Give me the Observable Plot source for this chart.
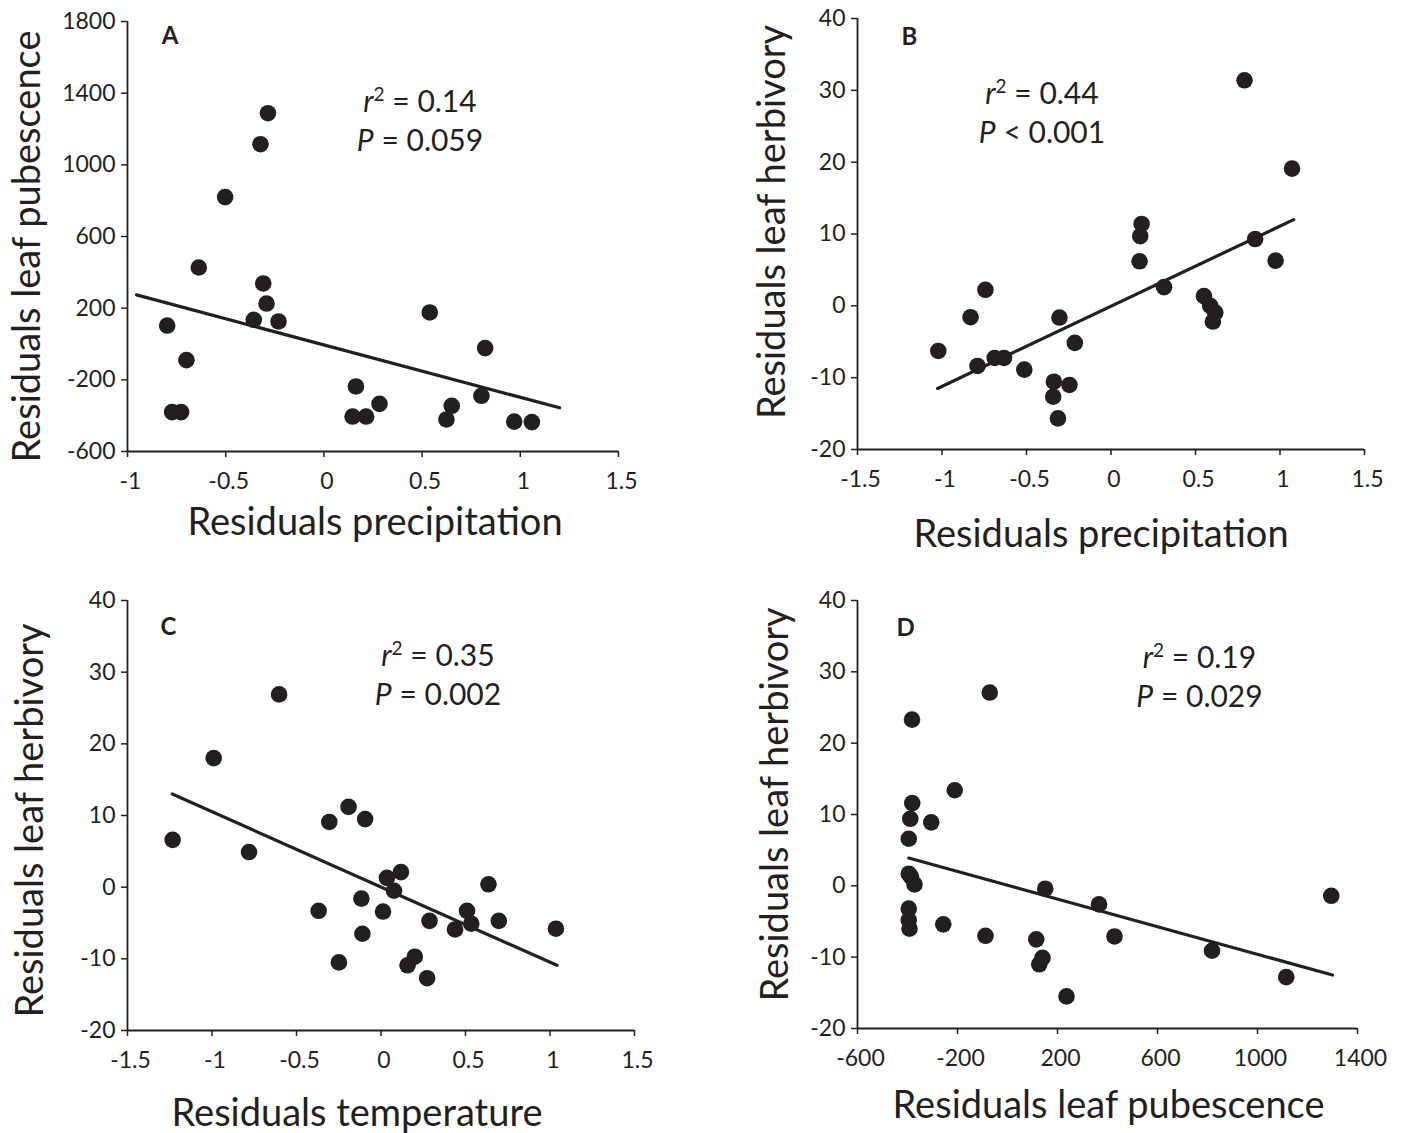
<!DOCTYPE html>
<html>
<head>
<meta charset="utf-8">
<script src="https://cdn.jsdelivr.net/npm/d3@7"></script>
<script src="https://cdn.jsdelivr.net/npm/@observablehq/plot@0.6"></script>
<style>
  html, body { margin: 0; padding: 0; background: #fff; }
  #root { position: relative; width: 1411px; height: 1133px; overflow: hidden; background: #fff; }
  #root svg { position: absolute; overflow: visible; }
</style>
</head>
<body>
<div id="root"></div>
<script>
// ---------- Panel A: residuals precipitation vs residuals leaf pubescence ----------
const aPrecipitation = [-0.285, -0.323, -0.503, -0.637, -0.309, -0.292, -0.357, -0.231, -0.798, -0.700, -0.773, -0.727, 0.539, 0.821, 0.163, 0.283, 0.146, 0.215, 0.651, 0.624, 0.802, 0.969, 1.059];
const aPubescence   = [1288, 1115, 820, 427, 338, 226, 135, 126, 103, -90, -380, -380, 176, -23, -237, -334, -405, -405, -345, -421, -289, -433, -436];
const aFitX = [-0.954, 1.200];
const aFitY = [274, -356];
const aXTicks = [-1, -0.5, 0, 0.5, 1, 1.5];
const aYTicks = [-600, -200, 200, 600, 1000, 1400, 1800];
const aStats = ["r² = 0.14", "P = 0.059"];

// ---------- Panel B: residuals precipitation vs residuals leaf herbivory ----------
const bPrecipitation = [0.790, 1.071, 0.181, 0.173, 0.169, 0.853, 0.974, 0.314, 0.550, 0.587, 0.617, 0.603, -0.743, -0.831, -0.305, -1.022, -0.790, -0.688, -0.633, -0.513, -0.214, -0.338, -0.342, -0.246, -0.314];
const bHerbivory     = [31.4, 19.1, 11.4, 9.7, 6.2, 9.3, 6.3, 2.6, 1.35, 0, -0.93, -2.19, 2.23, -1.58, -1.63, -6.28, -8.37, -7.26, -7.26, -8.88, -5.16, -10.56, -12.65, -11.02, -15.67];
const bFitX = [-1.026, 1.081];
const bFitY = [-11.5, 12.0];
const bXTicks = [-1.5, -1, -0.5, 0, 0.5, 1, 1.5];
const bYTicks = [-20, -10, 0, 10, 20, 30, 40];
const bStats = ["r² = 0.44", "P < 0.001"];

// ---------- Panel C: residuals temperature vs residuals leaf herbivory ----------
const cTemperature = [-0.603, -0.990, -1.233, -0.781, -0.192, -0.306, -0.094, 0.118, 0.035, 0.077, 0.636, -0.369, -0.116, 0.012, 0.287, 0.509, 0.534, 0.438, 0.697, 1.035, -0.110, -0.249, 0.200, 0.157, 0.273];
const cHerbivory   = [26.9, 18.0, 6.6, 4.9, 11.2, 9.1, 9.5, 2.1, 1.3, -0.5, 0.4, -3.3, -1.6, -3.4, -4.7, -3.3, -5.1, -5.9, -4.7, -5.8, -6.5, -10.5, -9.7, -10.9, -12.7];
const cFitX = [-1.235, 1.041];
const cFitY = [13.0, -10.9];
const cXTicks = [-1.5, -1, -0.5, 0, 0.5, 1, 1.5];
const cYTicks = [-20, -10, 0, 10, 20, 30, 40];
const cStats = ["r² = 0.35", "P = 0.002"];

// ---------- Panel D: residuals leaf pubescence vs residuals leaf herbivory ----------
const dPubescence = [-71, -382, -211, -381, -389, -305, -395, -395, -386, -372, -395, -395, -392, -257, -88, 115, 140, 127, 236, 151, 366, 428, 818, 1115, 1295];
const dHerbivory  = [27.1, 23.3, 13.4, 11.6, 9.4, 8.9, 6.6, 1.7, 1.3, 0.2, -3.2, -4.8, -6.0, -5.4, -7.0, -7.5, -10.1, -11.0, -15.5, -0.4, -2.6, -7.1, -9.1, -12.8, -1.4];
const dFitX = [-395, 1300];
const dFitY = [3.9, -12.5];
const dXTicks = [-600, -200, 200, 600, 1000, 1400];
const dYTicks = [-20, -10, 0, 10, 20, 30, 40];
const dStats = ["r² = 0.19", "P = 0.029"];

// ---------- rendering ----------
const INK = "#231f20";
const FONT = "Lato, 'Open Sans', 'Liberation Sans', sans-serif";
const NS = "http://www.w3.org/2000/svg";

function tspan(txt, attrs) {
  const t = document.createElementNS(NS, "tspan");
  for (const k in attrs) t.setAttribute(k, attrs[k]);
  t.textContent = txt;
  return t;
}

function panel(o) {
  const fmt = d => String(d);
  const chart = Plot.plot({
    width: o.width, height: o.height,
    marginLeft: o.ml, marginRight: o.mr, marginTop: o.mt, marginBottom: o.mb,
    style: { fontFamily: FONT, color: INK, background: "transparent", overflow: "visible" },
    x: { domain: [o.xTicks[0], o.xTicks[o.xTicks.length - 1]] },
    y: { domain: [o.yTicks[0], o.yTicks[o.yTicks.length - 1]] },
    marks: [
      // tick marks only
      Plot.axisX({ ticks: o.xTicks, tickFormat: () => "", tickSize: 6, label: null, stroke: INK, strokeWidth: 1.5, strokeOpacity: 1 }),
      // tick labels, nudged right as in the original
      Plot.axisX({ ticks: o.xTicks, tickFormat: fmt, tickSize: 0, tickPadding: 21, fontSize: 23, label: null, dx: 3, fill: INK }),
      Plot.axisY({ ticks: o.yTicks, tickFormat: fmt, tickSize: 6, tickPadding: 6, fontSize: 23, label: null, stroke: INK, strokeWidth: 1.5, strokeOpacity: 1, fill: INK }),
      Plot.ruleX([o.xTicks[0]], { stroke: INK, strokeWidth: 1.8 }),
      Plot.ruleY([o.yTicks[0]], { stroke: INK, strokeWidth: 1.8 }),
      Plot.line(o.fitX, { x: o.fitX, y: o.fitY, stroke: INK, strokeWidth: 3.2 }),
      Plot.dot(o.x, { x: o.x, y: o.y, r: 8.3, fill: INK, stroke: "none" }),
      Plot.text([o.letter], { text: d => d, frameAnchor: "top-left", dx: o.letterDx, dy: o.letterDy, fontSize: 24, fontWeight: "bold", fill: INK, textAnchor: "middle", lineAnchor: "middle" }),
      Plot.text([o.stats[0]], { text: d => d, frameAnchor: "top", dx: o.statDx, dy: o.statDy, fontSize: 30, fill: INK, textAnchor: "middle", lineAnchor: "middle", className: "stat" }),
      Plot.text([o.stats[1]], { text: d => d, frameAnchor: "top", dx: o.statDx, dy: o.statDy + 39, fontSize: 30, fill: INK, textAnchor: "middle", lineAnchor: "middle", className: "stat" }),
      Plot.text([o.xLabel], { text: d => d, frameAnchor: "bottom", dx: o.xlDx, dy: o.xlDy, fontSize: 38, fill: INK, textAnchor: "middle", lineAnchor: "middle" }),
      Plot.text([o.yLabel], { text: d => d, frameAnchor: "left", dx: o.ylDx, dy: o.ylDy, rotate: -90, fontSize: 38, fill: INK, textAnchor: "middle", lineAnchor: "middle" })
    ]
  });
  chart.style.left = o.left + "px";
  chart.style.top = o.top + "px";
  // italicise the statistic symbols (r, P) and raise the exponent, keeping the text real
  chart.querySelectorAll(".stat text").forEach(t => {
    const s = t.textContent;
    t.textContent = "";
    if (s.startsWith("r²")) {
      t.appendChild(tspan("r", { "font-style": "italic" }));
      t.appendChild(tspan("2", { "font-size": "19", dy: "-11" }));
      t.appendChild(tspan(s.slice(2), { dy: "11" }));
    } else {
      t.appendChild(tspan(s.charAt(0), { "font-style": "italic" }));
      t.appendChild(tspan(s.slice(1), {}));
    }
  });
  document.getElementById("root").appendChild(chart);
}

// A: frame x 127..618, y 21..451
panel({ left: 0, top: 0, width: 700, height: 570, ml: 127, mr: 82, mt: 21, mb: 119,
  x: aPrecipitation, y: aPubescence, fitX: aFitX, fitY: aFitY, xTicks: aXTicks, yTicks: aYTicks,
  letter: "A", letterDx: 42.5, letterDy: 15, stats: aStats, statDx: 47, statDy: 81,
  xLabel: "Residuals precipitation", xlDx: 2, xlDy: 71,
  yLabel: "Residuals leaf pubescence", ylDx: -100, ylDy: 10 });

// B: frame x 857..1364, y 18..449
panel({ left: 700, top: 0, width: 711, height: 570, ml: 157, mr: 47, mt: 18, mb: 121,
  x: bPrecipitation, y: bHerbivory, fitX: bFitX, fitY: bFitY, xTicks: bXTicks, yTicks: bYTicks,
  letter: "B", letterDx: 52, letterDy: 19, stats: bStats, statDx: -69, statDy: 76,
  xLabel: "Residuals precipitation", xlDx: -10, xlDy: 85,
  yLabel: "Residuals leaf herbivory", ylDx: -85, ylDy: -12 });

// C: frame x 127..634, y 600..1030
panel({ left: 0, top: 570, width: 700, height: 563, ml: 127, mr: 66, mt: 30, mb: 103,
  x: cTemperature, y: cHerbivory, fitX: cFitX, fitY: cFitY, xTicks: cXTicks, yTicks: cYTicks,
  letter: "C", letterDx: 41, letterDy: 27, stats: cStats, statDx: 57, statDy: 56,
  xLabel: "Residuals temperature", xlDx: -24, xlDy: 83,
  yLabel: "Residuals leaf herbivory", ylDx: -97, ylDy: 5 });

// D: frame x 857..1357, y 600..1028
panel({ left: 700, top: 570, width: 711, height: 563, ml: 157, mr: 54, mt: 30, mb: 105,
  x: dPubescence, y: dHerbivory, fitX: dFitX, fitY: dFitY, xTicks: dXTicks, yTicks: dYTicks,
  letter: "D", letterDx: 48, letterDy: 28, stats: dStats, statDx: 92, statDy: 58,
  xLabel: "Residuals leaf pubescence", xlDx: 1, xlDy: 77,
  yLabel: "Residuals leaf herbivory", ylDx: -82, ylDy: -10 });
</script>
</body>
</html>
